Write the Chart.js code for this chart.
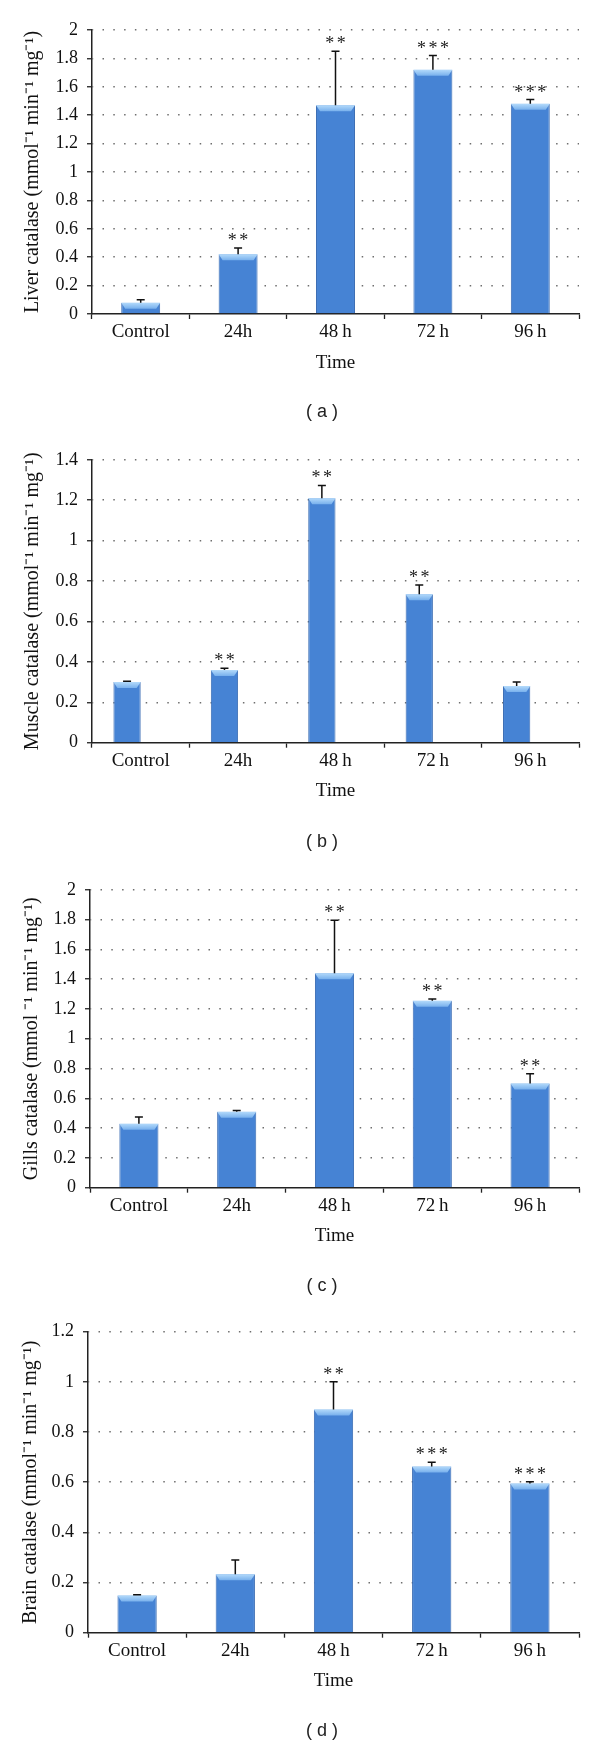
<!DOCTYPE html>
<html>
<head>
<meta charset="utf-8">
<script src="https://cdn.jsdelivr.net/npm/chart.js@4.4.0/dist/chart.umd.min.js"></script>
<style>
  body { margin: 0; background: #fff; width: 600px; height: 1747px; position: relative; overflow: hidden; }
  canvas { position: absolute; left: 0; }
  .cap { position: absolute; font-family: "Liberation Sans", Arial, sans-serif; font-size: 18px; color: #222;
         transform: translate(-50%, -50%); white-space: pre; }
</style>
</head>
<body>
<script>
// categories
const labels = ['Control', '24h', '48\u2009h', '72\u2009h', '96\u2009h'];

// liver (a)
const liverMean  = [0.08, 0.42, 1.47, 1.72, 1.48];
const liverErr   = [0.02, 0.045, 0.38, 0.10, 0.03];
const liverStars = ['', '**', '**', '***', '***'];

// muscle (b)
const muscleMean  = [0.30, 0.36, 1.21, 0.735, 0.28];
const muscleErr   = [0.004, 0.008, 0.063, 0.045, 0.02];
const muscleStars = ['', '**', '**', '**', ''];

// gills (c)
const gillsMean  = [0.43, 0.51, 1.44, 1.255, 0.70];
const gillsErr   = [0.045, 0.008, 0.355, 0.012, 0.065];
const gillsStars = ['', '', '**', '**', '**'];

// brain (d)
const brainMean  = [0.148, 0.233, 0.89, 0.663, 0.595];
const brainErr   = [0.003, 0.057, 0.11, 0.017, 0.007];
const brainStars = ['', '', '**', '***', '***'];

const serif = '"Liberation Serif", "Times New Roman", serif';

const decorate = {
    id: 'decorate',
    afterDatasetsDraw(chart, args, opts) {
        let ctx = chart.ctx;
        let meta = chart.getDatasetMeta(0);
        let yScale = chart.scales.y;
        meta.data.forEach(function(bar, i){
            let p = bar.getProps(['x', 'y', 'base', 'width'], true);
            let l = p.x - p.width/2, r = p.x + p.width/2;
            // light bevel at the top of the bar
            let g = ctx.createLinearGradient(0, p.y, 0, p.y + 7);
            g.addColorStop(0, '#b3dafb');
            g.addColorStop(1, '#6ea9ea');
            ctx.save();
            ctx.fillStyle = g;
            ctx.beginPath();
            ctx.moveTo(l, p.y);
            ctx.lineTo(r, p.y);
            ctx.lineTo(r - 4, p.y + 6);
            ctx.lineTo(l + 4, p.y + 6);
            ctx.closePath();
            ctx.fill();

            // error bar (upper only)
            let top = yScale.getPixelForValue(opts.mean[i] + opts.err[i]);
            ctx.strokeStyle = '#111';
            ctx.lineWidth = 1.5;
            ctx.beginPath();
            ctx.moveTo(p.x, p.y);
            ctx.lineTo(p.x, top);
            ctx.moveTo(p.x - 4, top);
            ctx.lineTo(p.x + 4, top);
            ctx.stroke();

            // significance stars
            if(opts.stars[i]){
                ctx.fillStyle = '#222';
                ctx.font = '18px ' + serif;
                ctx.letterSpacing = '2.5px';
                ctx.textAlign = 'center';
                ctx.textBaseline = 'alphabetic';
                ctx.fillText(opts.stars[i], p.x + 1.25, top - 2);
            }
            ctx.restore();
        });
    }
};

function makePanel(p){
    let canvas = document.createElement('canvas');
    canvas.width = 600;
    canvas.height = p.height;
    canvas.style.top = p.top + 'px';
    document.body.appendChild(canvas);

    let datasets = [{
        data: p.mean,
        backgroundColor: '#4683d4',
        borderColor: '#3a6cb3',
        borderWidth: {left: 1, right: 1, top: 0, bottom: 0},
        categoryPercentage: p.cat,
        barPercentage: 1
    }];
    // panel b has an empty second series, so its bars sit left of centre
    if(p.empty) datasets.push({data: labels.map(() => null), categoryPercentage: p.cat, barPercentage: 1});

    new Chart(canvas.getContext('2d'), {
        type: 'bar',
        data: { labels: labels, datasets: datasets },
        plugins: [decorate],
        options: {
            responsive: false,
            animation: false,
            events: [],
            layout: { padding: { top: p.padTop, right: 21, bottom: p.padBottom, left: 0 } },
            plugins: {
                legend: { display: false },
                tooltip: { enabled: false },
                decorate: { mean: p.mean, err: p.err, stars: p.stars }
            },
            scales: {
                x: {
                    grid: { drawOnChartArea: false, tickLength: 5, tickColor: '#222', tickWidth: 1.3, offset: true },
                    border: { color: '#222', width: 1.5 },
                    ticks: { font: { family: serif, size: 19 }, color: '#111', padding: 2, maxRotation: 0 },
                    title: { display: true, text: 'Time', font: { family: serif, size: 19 }, color: '#111', padding: 0 },
                    afterFit: function(s){ s.height = 60; }
                },
                y: {
                    min: 0,
                    max: p.max,
                    ticks: { stepSize: 0.2, font: { family: serif, size: 18 }, color: '#111', padding: 9,
                             callback: (v) => String(Math.round(v * 10) / 10) },
                    grid: {
                        color: (c) => c.tick && c.tick.value === 0 ? 'rgba(0,0,0,0)' : '#6e6e6e',
                        lineWidth: 1.5,
                        tickLength: 5,
                        tickColor: '#222',
                        tickWidth: 1.3
                    },
                    border: { color: '#222', width: 1.5, dash: [1.5, 9.3], dashOffset: -10 },
                    title: { display: true, text: p.title, font: { family: serif, size: 20 }, color: '#111',
                             padding: { top: 21 - (p.axisShift || 0), bottom: 0 } },
                    afterFit: function(s){ s.width = p.axisLeft; }
                }
            }
        }
    });

    let cap = document.createElement('div');
    cap.className = 'cap';
    cap.textContent = p.caption;
    cap.style.left = '322px';
    cap.style.top = p.capY + 'px';
    document.body.appendChild(cap);
}

makePanel({ top: 0, height: 440, padTop: 30, padBottom: 66, axisLeft: 92, max: 2,
    mean: liverMean, err: liverErr, stars: liverStars, cat: 0.4,
    title: 'Liver catalase (mmol\u207B\u00B9 min\u207B\u00B9 mg\u207B\u00B9)', caption: '( a )', capY: 411 });

makePanel({ top: 440, height: 440, padTop: 15.7, padBottom: 77.3, axisLeft: 92, max: 1.4,
    mean: muscleMean, err: muscleErr, stars: muscleStars, cat: 0.56, empty: true,
    title: 'Muscle catalase (mmol\u207B\u00B9 min\u207B\u00B9 mg\u207B\u00B9)', caption: '( b )', capY: 841 });

makePanel({ top: 870, height: 440, padTop: 16.7, padBottom: 62.3, axisLeft: 90, axisShift: 1, max: 2,
    mean: gillsMean, err: gillsErr, stars: gillsStars, cat: 0.4,
    title: 'Gills catalase (mmol \u207B\u00B9 min\u207B\u00B9 mg\u207B\u00B9)', caption: '( c )', capY: 1285 });

makePanel({ top: 1310, height: 437, padTop: 21.7, padBottom: 54.3, axisLeft: 88, axisShift: 2, max: 1.2,
    mean: brainMean, err: brainErr, stars: brainStars, cat: 0.4,
    title: 'Brain catalase (mmol\u207B\u00B9 min\u207B\u00B9 mg\u207B\u00B9)', caption: '( d )', capY: 1730 });
</script>
</body>
</html>
